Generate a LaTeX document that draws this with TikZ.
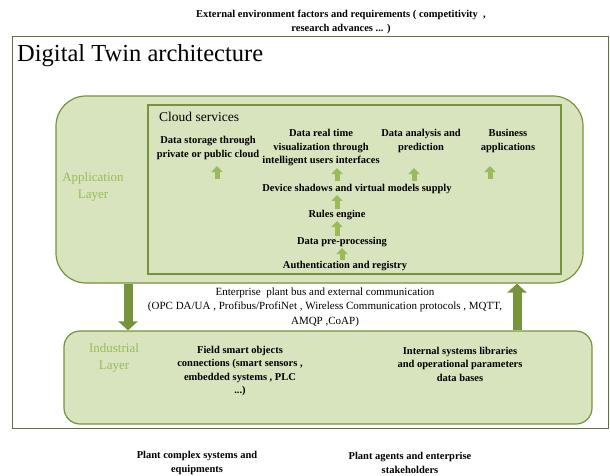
\documentclass[tikz,border=0pt]{standalone}
\usepackage{fontspec}
\setmainfont{Liberation Serif}
\usetikzlibrary{arrows.meta}
\definecolor{fillg}{HTML}{D7E4BD}
\definecolor{lineg}{HTML}{77933C}
\definecolor{lblg}{HTML}{9BBB59}
\definecolor{frameg}{HTML}{5F6F45}
\tikzset{
  lbl/.style={align=center, inner sep=0pt, font=\bfseries\fontsize{10.5}{13.5}\selectfont},
  midtxt/.style={align=center, inner sep=0pt, font=\fontsize{11}{14.5}\selectfont},
  layerlbl/.style={align=center, inner sep=0pt, text=lblg, font=\fontsize{13}{17}\selectfont},
  appbox/.style={draw=lineg, fill=fillg, line width=1.2pt, rounded corners=30pt, inner sep=0pt},
  indbox/.style={draw=lineg, fill=fillg, line width=1.2pt, rounded corners=16pt, inner sep=0pt},
  cloudbox/.style={draw=lineg, fill=fillg, line width=1.2pt, inner sep=0pt},
  smallarr/.style={lblg, line width=5pt, -{Triangle[width=11pt,length=6pt]}, shorten >=0pt},
  bigarr/.style={lineg, line width=9pt, -{Triangle[width=19pt,length=9pt]}},
}
\begin{document}
\begin{tikzpicture}[x=1pt,y=-1pt]
\useasboundingbox (0,0) rectangle (610,476);
% outer frame
\node[draw=frameg, line width=0.9pt, minimum width=596pt, minimum height=392pt, inner sep=0pt] (frame) at (310,232) {};
\node[anchor=west, inner sep=0pt, font=\fontsize{24.5}{28}\selectfont] (title) at (17,56) {Digital Twin architecture};
% top / bottom texts
\node[lbl] (ext) at (341,22) {External environment factors and requirements ( competitivity\ \ ,\\research advances ... )};
\node[lbl] (plant) at (197,463) {Plant complex systems and\\equipments};
\node[lbl] (agents) at (410,463) {Plant agents and enterprise\\stakeholders};
% application layer
\node[appbox, minimum width=527pt, minimum height=187pt] (app) at (319.5,189.5) {};
\node[cloudbox, minimum width=413pt, minimum height=169pt] (cloud) at (354.5,189.5) {};
\node[layerlbl] (applbl) at (93,187) {Application\\Layer};
\node[anchor=west, inner sep=0pt, font=\fontsize{13.5}{15}\selectfont] (cloudlbl) at (159,117) {Cloud services};
\node[lbl] (storage) at (208,148) {Data storage through\\private or public cloud};
\node[lbl] (visu) at (321,148) {Data real time\\visualization through\\intelligent users interfaces};
\node[lbl] (analysis) at (421,141) {Data analysis and\\prediction};
\node[lbl] (business) at (508,141) {Business\\applications};
\node[lbl] (shadow) at (357,189) {Device shadows and virtual models supply};
\node[lbl] (rules) at (337,215) {Rules engine};
\node[lbl] (prep) at (342,242) {Data pre-processing};
\node[lbl] (auth) at (345,266) {Authentication and registry};
% small arrows
\coordinate (s1a) at (217,179); \coordinate (s1b) at (217,166);
\coordinate (s2a) at (337,181); \coordinate (s2b) at (337,168);
\coordinate (s3a) at (414,181); \coordinate (s3b) at (414,168);
\coordinate (s4a) at (490,179); \coordinate (s4b) at (490,166);
\draw[smallarr] (s1a) -- (s1b);
\draw[smallarr] (s2a) -- (s2b);
\draw[smallarr] (s3a) -- (s3b);
\draw[smallarr] (s4a) -- (s4b);
\draw[smallarr] ([yshift=1pt]rules.north -| 337,0) -- ([yshift=-1pt]shadow.south -| 337,0);
\draw[smallarr] ([yshift=1pt]prep.north -| 337,0) -- ([yshift=-1pt]rules.south -| 337,0);
\draw[smallarr] ([yshift=1pt]auth.north -| 342,0) -- ([yshift=-1pt]prep.south -| 342,0);
% industrial layer
\node[indbox, minimum width=528pt, minimum height=93pt] (ind) at (328,377.5) {};
\node[layerlbl] (indlbl) at (114,358) {Industrial\\Layer};
\node[lbl] (field) at (240,371) {Field smart objects\\connections (smart sensors ,\\embedded systems , PLC\\...)};
\node[lbl] (libs) at (460,364) {Internal systems libraries\\and operational parameters\\data bases};
% bus text
\node[midtxt] (bus) at (325,307) {Enterprise\ \ plant bus and external communication\\(OPC DA/UA , Profibus/ProfiNet , Wireless Communication protocols , MQTT,\\AMQP ,CoAP)};
% big arrows
\draw[bigarr] (app.south -| 128,0) -- (ind.north -| 128,0);
\draw[bigarr] (ind.north -| 517,0) -- (app.south -| 517,0);
\end{tikzpicture}
\end{document}
